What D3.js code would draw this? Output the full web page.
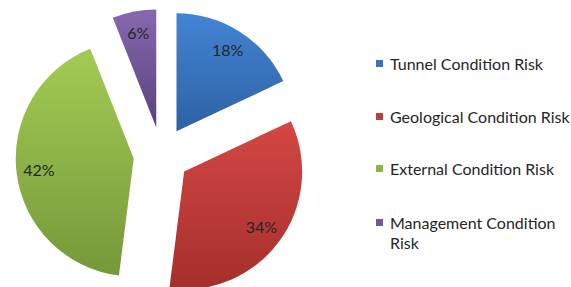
<!DOCTYPE html>
<meta charset="utf-8">
<script src="https://d3js.org/d3.v7.min.js"></script>
<style>
  body { margin: 0; background: #fff; }
  text { font-family: Lato, "Liberation Sans", sans-serif; fill: #262626; }
</style>
<div id="chart"></div>
<script>

// data
var categories = ["Tunnel Condition Risk", "Geological Condition Risk", "External Condition Risk", "Management Condition Risk"];
var values = [18, 34, 42, 6];
var labels = ["18%", "34%", "42%", "6%"];
// light (top) and dark (bottom) shade for each slice
var topColors = ["#4384d4", "#d44744", "#a3cb53", "#8668b0"];
var bottomColors = ["#2d62a3", "#a52f2c", "#76983a", "#5a417e"];
var legendColors = ["#3a73bc", "#be3c39", "#8fb346", "#7256a0"];

var width = 571, height = 287;
var cx = 161.5, cy = 155, radius = 118, explode = 28;

var svg = d3.select("#chart")
    .append("svg")
    .attr("width", width)
    .attr("height", height);

var defs = svg.append("defs");
categories.forEach(function(c, i) {
    var g = defs.append("linearGradient")
        .attr("id", "grad" + i)
        .attr("x1", 0).attr("y1", 0)
        .attr("x2", 0).attr("y2", 1);
    g.append("stop").attr("offset", "0%").attr("stop-color", topColors[i]);
    g.append("stop").attr("offset", "100%").attr("stop-color", bottomColors[i]);
});

var pie = d3.pie().sort(null).value(function(d) { return d; });
var arcs = pie(values);

var arc = d3.arc().innerRadius(0).outerRadius(radius);
var labelArc = d3.arc().innerRadius(radius * 0.81).outerRadius(radius * 0.81);

var pieG = svg.append("g")
    .attr("transform", "translate(" + cx + "," + cy + ")");

var slices = pieG.selectAll(".slice")
    .data(arcs)
    .enter()
    .append("g")
    .attr("class", "slice")
    .attr("transform", function(d) {
        var mid = (d.startAngle + d.endAngle) / 2;
        return "translate(" + (Math.sin(mid) * explode) + "," + (-Math.cos(mid) * explode) + ")";
    });

slices.append("path")
    .attr("d", arc)
    .style("fill", function(d, i) { return "url(#grad" + i + ")"; });

slices.append("text")
    .attr("transform", function(d) { return "translate(" + labelArc.centroid(d) + ")"; })
    .attr("text-anchor", "middle")
    .attr("dy", "0.35em")
    .style("font-size", "16px")
    .text(function(d, i) { return labels[i]; });

// legend
var legend = svg.append("g").attr("transform", "translate(376,0)");
var rowY = [64, 117, 169, 223];

var items = legend.selectAll(".item")
    .data(categories)
    .enter()
    .append("g")
    .attr("class", "item")
    .attr("transform", function(d, i) { return "translate(0," + rowY[i] + ")"; });

items.append("rect")
    .attr("x", 0)
    .attr("y", -4)
    .attr("width", 7)
    .attr("height", 7)
    .style("fill", function(d, i) { return legendColors[i]; });

items.append("text")
    .attr("x", 14)
    .style("font-size", "16px")
    .each(function(d) {
        var el = d3.select(this);
        var lines = d === "Management Condition Risk" ? ["Management Condition", "Risk"] : [d];
        lines.forEach(function(l, k) {
            el.append("tspan")
                .attr("x", 14)
                .attr("dy", k === 0 ? "0.35em" : "20px")
                .text(l);
        });
    });

</script>
